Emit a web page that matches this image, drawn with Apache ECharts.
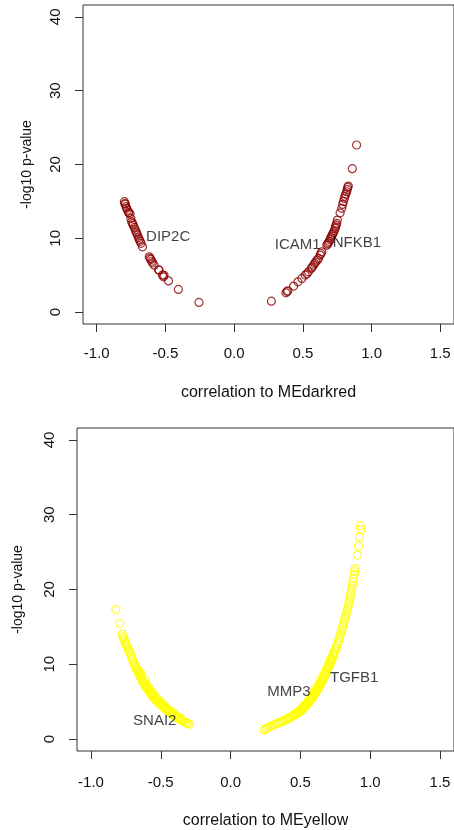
<!DOCTYPE html>
<html>
<head>
<meta charset="utf-8">
<script src="https://cdn.jsdelivr.net/npm/echarts@6/dist/echarts.min.js"></script>
<style>
  html, body { margin: 0; padding: 0; background: #fff; }
  #chart { width: 454px; height: 830px; }
</style>
</head>
<body>
<div id="chart"></div>
<script>
// tick labels
const xTicks = [-1.0, -0.5, 0.0, 0.5, 1.0, 1.5]
const yTicks = [0, 10, 20, 30, 40]

// MEdarkred module: [correlation, -log10 p]
const darkredNeg = [
  [-0.799, 14.96], [-0.795, 14.7], [-0.792, 14.64], [-0.788, 14.3], [-0.783, 14.06],
  [-0.776, 13.8], [-0.768, 13.46], [-0.765, 13.5], [-0.758, 13.29], [-0.752, 12.7],
  [-0.746, 12.24], [-0.739, 12.02], [-0.735, 11.8], [-0.727, 11.48], [-0.72, 11.2],
  [-0.714, 10.89], [-0.709, 10.7], [-0.703, 10.44], [-0.697, 10.1], [-0.691, 9.86],
  [-0.684, 9.6], [-0.678, 9.32], [-0.667, 8.85], [-0.618, 7.5], [-0.612, 7.3],
  [-0.606, 7.15], [-0.6, 6.9], [-0.594, 6.68], [-0.582, 6.37], [-0.55, 5.75],
  [-0.546, 5.69], [-0.522, 5.02], [-0.514, 4.79], [-0.51, 5.0], [-0.478, 4.24],
  [-0.406, 3.08], [-0.256, 1.32]
]
const darkredPos = [
  [0.271, 1.49], [0.377, 2.62], [0.385, 2.8], [0.391, 2.89], [0.433, 3.53],
  [0.464, 4.11], [0.493, 4.57], [0.517, 5.02], [0.53, 5.2], [0.541, 5.46],
  [0.561, 5.93], [0.567, 6.1], [0.578, 6.37], [0.586, 6.6], [0.594, 6.82],
  [0.604, 7.05], [0.614, 7.28], [0.626, 7.73], [0.632, 7.95], [0.638, 8.18],
  [0.674, 9.08], [0.68, 9.25], [0.686, 9.4], [0.692, 9.6], [0.699, 9.86],
  [0.704, 10.1], [0.71, 10.31], [0.716, 10.55], [0.722, 10.76], [0.728, 11.0],
  [0.735, 11.35], [0.738, 11.57], [0.742, 11.8], [0.746, 12.02], [0.751, 12.47],
  [0.771, 13.46], [0.783, 14.06], [0.79, 14.6], [0.795, 15.0], [0.802, 15.41],
  [0.806, 15.7], [0.812, 16.0], [0.819, 16.31], [0.823, 16.6], [0.826, 16.9],
  [0.831, 17.08], [0.86, 19.43], [0.891, 22.64]
]
const darkredGenes = [
  { name: 'DIP2C', value: [-0.48, 10.17] },
  { name: 'ICAM1', value: [0.462, 9.08] },
  { name: 'NFKB1', value: [0.893, 9.4] }
]

// MEyellow module: [correlation, -log10 p]
const yellowNeg = [
  [-0.822, 17.32], [-0.793, 15.45], [-0.777, 14.02], [-0.77, 13.7], [-0.765, 13.44],
  [-0.758, 13.1], [-0.753, 12.85], [-0.747, 12.62], [-0.741, 12.41], [-0.735, 12.12],
  [-0.729, 11.87], [-0.723, 11.6], [-0.717, 11.34], [-0.71, 11.0], [-0.704, 10.7],
  [-0.699, 10.44], [-0.693, 10.2], [-0.688, 9.95], [-0.682, 9.73], [-0.676, 9.48],
  [-0.67, 9.22], [-0.663, 8.97], [-0.657, 8.72], [-0.65, 8.47], [-0.644, 8.22],
  [-0.638, 7.98], [-0.632, 7.72], [-0.626, 7.55], [-0.62, 7.42], [-0.613, 7.2],
  [-0.606, 6.98], [-0.599, 6.8], [-0.592, 6.61], [-0.585, 6.42], [-0.578, 6.22],
  [-0.57, 6.03], [-0.563, 5.85], [-0.555, 5.68], [-0.548, 5.5], [-0.54, 5.34],
  [-0.532, 5.18], [-0.523, 5.0], [-0.514, 4.84], [-0.505, 4.68], [-0.496, 4.51],
  [-0.487, 4.37], [-0.478, 4.22], [-0.47, 4.08], [-0.461, 3.94], [-0.452, 3.8],
  [-0.443, 3.67], [-0.434, 3.53], [-0.425, 3.4], [-0.416, 3.28], [-0.407, 3.17],
  [-0.398, 3.06], [-0.39, 2.95], [-0.38, 2.83], [-0.37, 2.72], [-0.36, 2.61],
  [-0.35, 2.5], [-0.34, 2.4], [-0.328, 2.28], [-0.316, 2.17], [-0.305, 2.07],
  [-0.295, 1.97], [-0.66, 9.2], [-0.64, 8.5], [-0.6, 7.1], [-0.575, 6.45],
  [-0.55, 5.9], [-0.52, 5.3], [-0.49, 4.75], [-0.455, 4.1], [-0.42, 3.6],
  [-0.645, 8.9], [-0.615, 7.9], [-0.585, 6.9], [-0.56, 6.2], [-0.535, 5.6],
  [-0.505, 5.0], [-0.475, 4.45], [-0.44, 3.9], [-0.405, 3.4], [-0.37, 2.95]
]
const yellowPos = [
  [0.24, 1.22], [0.252, 1.38], [0.265, 1.5], [0.28, 1.65], [0.295, 1.78],
  [0.31, 1.9], [0.325, 2.02], [0.34, 2.12], [0.352, 2.2], [0.365, 2.3],
  [0.378, 2.42], [0.39, 2.52], [0.4, 2.62], [0.41, 2.7], [0.42, 2.8],
  [0.43, 2.9], [0.44, 3.0], [0.45, 3.1], [0.46, 3.22], [0.468, 3.32],
  [0.477, 3.42], [0.485, 3.52], [0.493, 3.64], [0.5, 3.75], [0.508, 3.88],
  [0.516, 4.0], [0.524, 4.15], [0.53, 4.28], [0.537, 4.4], [0.544, 4.55],
  [0.55, 4.68], [0.556, 4.82], [0.562, 4.96], [0.568, 5.1], [0.574, 5.25],
  [0.58, 5.4], [0.586, 5.55], [0.592, 5.72], [0.598, 5.9], [0.604, 6.08],
  [0.61, 6.25], [0.616, 6.42], [0.622, 6.6], [0.628, 6.78], [0.634, 6.98],
  [0.64, 7.18], [0.646, 7.4], [0.652, 7.6], [0.658, 7.82], [0.664, 8.05],
  [0.67, 8.28], [0.676, 8.5], [0.682, 8.75], [0.688, 9.0], [0.694, 9.25],
  [0.7, 9.5], [0.706, 9.78], [0.712, 10.05], [0.718, 10.33], [0.724, 10.62],
  [0.73, 10.9], [0.736, 11.2], [0.742, 11.5], [0.748, 11.8], [0.754, 12.12],
  [0.76, 12.45], [0.766, 12.78], [0.772, 13.1], [0.778, 13.45], [0.784, 13.8],
  [0.79, 14.2], [0.796, 14.6], [0.802, 15.0], [0.808, 15.4], [0.814, 15.8],
  [0.82, 16.2], [0.826, 16.6], [0.832, 17.0], [0.838, 17.4], [0.843, 17.8],
  [0.848, 18.2], [0.852, 18.6], [0.856, 19.0], [0.86, 19.4], [0.864, 19.8],
  [0.868, 20.2], [0.872, 20.6], [0.876, 21.0], [0.88, 21.5], [0.885, 22.0],
  [0.889, 22.4], [0.893, 22.8], [0.909, 24.6], [0.916, 25.8], [0.923, 27.0],
  [0.933, 28.0], [0.928, 28.5], [0.6, 6.3], [0.63, 7.3], [0.66, 8.4],
  [0.69, 9.6], [0.715, 10.7], [0.57, 5.4], [0.54, 4.7], [0.51, 4.1],
  [0.48, 3.6], [0.455, 3.3], [0.52, 4.4], [0.555, 5.1], [0.585, 5.9],
  [0.615, 6.8], [0.645, 7.8], [0.675, 8.9], [0.705, 10.1], [0.735, 11.5]
]
const yellowGenes = [
  { name: 'SNAI2', value: [-0.543, 2.41] },
  { name: 'MMP3', value: [0.417, 6.29] },
  { name: 'TGFB1', value: [0.885, 8.17] }
]

const font = '"Liberation Sans", Arial, Helvetica, sans-serif'
const ink = '#333'

function xAxisFor(gridIndex, title, gap, margin) {
  return {
    gridIndex: gridIndex, type: 'value', min: -1.1, max: 1.6,
    name: title, nameLocation: 'middle', nameGap: gap,
    nameTextStyle: { fontFamily: font, fontSize: 16, color: '#111' },
    splitLine: { show: false },
    axisLine: { show: false, onZero: false },
    axisTick: { show: true, inside: false, length: 8, customValues: xTicks, lineStyle: { color: ink } },
    axisLabel: {
      customValues: xTicks, margin: margin, fontFamily: font, fontSize: 15, color: '#111',
      formatter: v => v.toFixed(1)
    }
  }
}

function yAxisFor(gridIndex, gap) {
  return {
    gridIndex: gridIndex, type: 'value', min: -1.6, max: 41.6,
    name: '-log10 p-value', nameLocation: 'middle', nameGap: gap, nameRotate: 90,
    nameTextStyle: { fontFamily: font, fontSize: 14, color: '#111' },
    splitLine: { show: false },
    axisLine: { show: false, onZero: false },
    axisTick: { show: true, inside: false, length: 8, customValues: yTicks, lineStyle: { color: ink } },
    axisLabel: {
      customValues: yTicks, rotate: 90, margin: 20, fontFamily: font, fontSize: 15, color: '#111'
    }
  }
}

function points(data, color, idx) {
  return {
    type: 'scatter', xAxisIndex: idx, yAxisIndex: idx, data: data,
    symbol: 'circle', symbolSize: 8,
    itemStyle: { color: 'rgba(0,0,0,0)', borderColor: color, borderWidth: 1.2 },
    emphasis: { disabled: true }, animation: false
  }
}

function genes(data, idx) {
  return {
    type: 'scatter', xAxisIndex: idx, yAxisIndex: idx, data: data,
    symbolSize: 0, z: 5, animation: false,
    label: { show: true, position: 'inside', formatter: '{b}', fontFamily: font, fontSize: 15, color: '#111' }
  }
}

const chart = echarts.init(document.getElementById('chart'), null, { renderer: 'canvas' })
chart.setOption({
  backgroundColor: '#fff',
  grid: [
    { left: 83, top: 5, width: 373, height: 319, show: true, borderColor: ink, borderWidth: 1, backgroundColor: 'transparent' },
    { left: 77, top: 428, width: 378, height: 323, show: true, borderColor: ink, borderWidth: 1, backgroundColor: 'transparent' }
  ],
  xAxis: [
    xAxisFor(0, 'correlation to MEdarkred', 61, 22),
    xAxisFor(1, 'correlation to MEyellow', 62, 24)
  ],
  yAxis: [yAxisFor(0, 49), yAxisFor(1, 52)],
  series: [
    points(darkredNeg, '#8B0000', 0),
    points(darkredPos, '#8B0000', 0),
    genes(darkredGenes, 0),
    points(yellowNeg, '#FFFF00', 1),
    points(yellowPos, '#FFFF00', 1),
    genes(yellowGenes, 1)
  ]
})
</script>
</body>
</html>
